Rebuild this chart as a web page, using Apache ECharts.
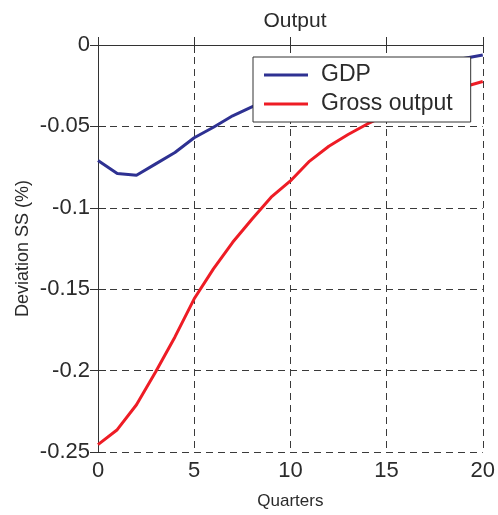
<!DOCTYPE html>
<html>
<head>
<meta charset="utf-8">
<script src="https://cdn.jsdelivr.net/npm/echarts@6/dist/echarts.min.js"></script>
<style>
  html, body { margin: 0; padding: 0; background: #fff; }
  #chart { width: 498px; height: 515px; }
</style>
</head>
<body>
<div id="chart"></div>
<script>
// Quarters after the shock
const quarters = [0, 1, 2, 3, 4, 5, 6, 7, 8, 9, 10, 11, 12, 13, 14, 15, 16, 17, 18, 19, 20];
// Deviation from steady state (%)
const gdp = [-0.071, -0.079, -0.080, -0.073, -0.066, -0.057, -0.0505, -0.0435, -0.038, -0.033,
             -0.029, -0.025, -0.022, -0.019, -0.0165, -0.0145, -0.0125, -0.011, -0.0095, -0.0083, -0.0061];
const grossOutput = [-0.2455, -0.2363, -0.221, -0.2007, -0.1793, -0.1559, -0.1375, -0.1212, -0.107, -0.0935,
                     -0.0835, -0.0713, -0.0622, -0.055, -0.0485, -0.043, -0.038, -0.0335, -0.0295, -0.0258, -0.0224];
const xTicks = [0, 5, 10, 15, 20];
const yTicks = [-0.25, -0.2, -0.15, -0.1, -0.05, 0];

const FONT = 'Liberation Sans, Arial, sans-serif';
const TEXT = '#2b2b2b';
const AXIS = '#333333';

const chart = echarts.init(document.getElementById('chart'), null, { renderer: 'canvas' });

const fmtY = v => String(parseFloat(v.toFixed(2)));

const baseAxisLine = { show: true, lineStyle: { color: AXIS, width: 1 } };
const gridLine = { show: true, lineStyle: { color: '#3a3a3a', width: 1, type: [7, 5] } };

chart.setOption({
  backgroundColor: '#ffffff',
  animation: false,
  title: {
    text: 'Output',
    left: 290, top: 6,
    textAlign: 'center',
    textStyle: { fontFamily: FONT, fontSize: 21, fontWeight: 'normal', color: TEXT }
  },
  grid: { left: 98, right: 15, top: 45, bottom: 61, containLabel: false },
  legend: {
    orient: 'vertical',
    left: 253, top: 57,
    padding: [5, 18, 5, 11],
    itemGap: 3,
    itemWidth: 44,
    itemHeight: 3,
    icon: 'rect',
    backgroundColor: '#ffffff',
    borderColor: AXIS,
    borderWidth: 1,
    borderRadius: 0,
    textStyle: { fontFamily: FONT, fontSize: 23, color: TEXT, lineHeight: 26, padding: [0, 0, 0, 8] },
    data: ['GDP', 'Gross output']
  },
  xAxis: [
    {
      type: 'value', min: xTicks[0], max: xTicks[xTicks.length - 1], interval: 5,
      position: 'bottom',
      name: 'Quarters', nameLocation: 'middle', nameGap: 41,
      nameTextStyle: { fontFamily: FONT, fontSize: 17, color: TEXT },
      axisLine: baseAxisLine,
      axisTick: { show: true, inside: true, length: 8, lineStyle: { color: AXIS } },
      axisLabel: { fontFamily: FONT, fontSize: 22, color: TEXT, margin: 8 },
      splitLine: gridLine
    },
    {
      type: 'value', min: xTicks[0], max: xTicks[xTicks.length - 1], interval: 5,
      position: 'top',
      axisLine: baseAxisLine,
      axisTick: { show: true, inside: true, length: 8, lineStyle: { color: AXIS } },
      axisLabel: { show: false },
      splitLine: { show: false }
    }
  ],
  yAxis: [
    {
      type: 'value', min: yTicks[0], max: yTicks[yTicks.length - 1], interval: 0.05,
      position: 'left',
      name: 'Deviation SS (%)', nameLocation: 'middle', nameGap: 66, nameRotate: 90,
      nameMoveOverlap: false,
      nameTextStyle: { fontFamily: FONT, fontSize: 18, color: TEXT },
      axisLine: baseAxisLine,
      axisTick: { show: true, inside: true, length: 8, lineStyle: { color: AXIS } },
      axisLabel: { fontFamily: FONT, fontSize: 22, color: TEXT, margin: 8, formatter: fmtY },
      splitLine: gridLine
    },
    {
      type: 'value', min: yTicks[0], max: yTicks[yTicks.length - 1], interval: 0.05,
      position: 'right',
      axisLine: baseAxisLine,
      axisTick: { show: true, inside: true, length: 8, lineStyle: { color: AXIS } },
      axisLabel: { show: false },
      splitLine: { show: false }
    }
  ],
  series: [
    {
      name: 'GDP', type: 'line',
      data: quarters.map((q, i) => [q, gdp[i]]),
      showSymbol: false, symbol: 'none',
      lineStyle: { color: '#2e3192', width: 3 },
      itemStyle: { color: '#2e3192' },
      z: 2
    },
    {
      name: 'Gross output', type: 'line',
      data: quarters.map((q, i) => [q, grossOutput[i]]),
      showSymbol: false, symbol: 'none',
      lineStyle: { color: '#ee1c25', width: 3 },
      itemStyle: { color: '#ee1c25' },
      z: 2
    }
  ]
});
</script>
</body>
</html>
